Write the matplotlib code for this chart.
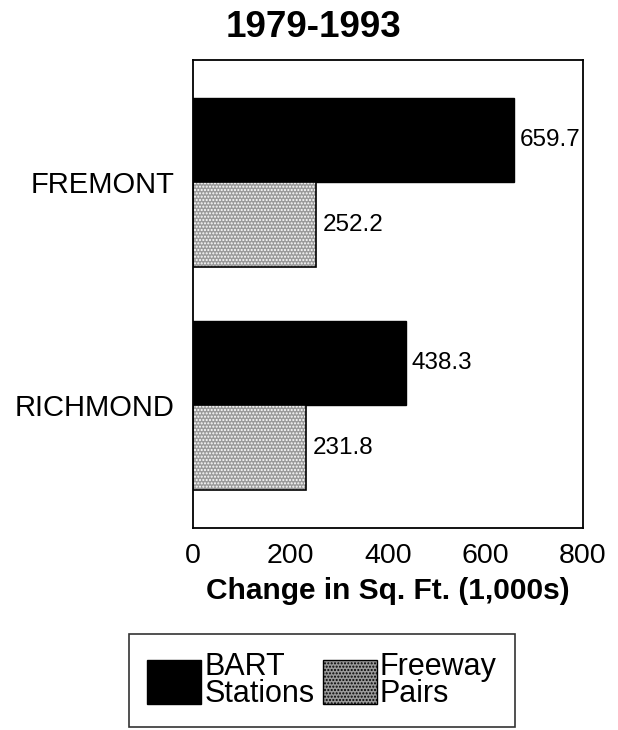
import matplotlib
matplotlib.use("Agg")
import matplotlib.pyplot as plt
from matplotlib.patches import Patch
import numpy as np

plt.rcParams['font.family'] = ['Liberation Sans', 'DejaVu Sans']

categories = ["FREMONT", "RICHMOND"]
bart = [659.7, 438.3]
freeway = [252.2, 231.8]
xticks = [0, 200, 400, 600, 800]

fig = plt.figure(figsize=(6.18, 7.30), dpi=100)
ax = fig.add_axes([0.312, 0.277, 0.631, 0.641])

y = np.arange(len(categories))
h = 0.38
ax.barh(y - h / 2, bart, height=h, color='black', edgecolor='black', linewidth=1)
ax.barh(y + h / 2, freeway, height=h, color='#9a9a9a', edgecolor='white',
        hatch='.....', linewidth=0)
ax.barh(y + h / 2, freeway, height=h, fill=False, edgecolor='black', linewidth=1.2)

for yi, v in zip(y, bart):
    ax.text(v + 10, yi - h / 2, f"{v:.1f}", va='center', ha='left', fontsize=17.5)
for yi, v in zip(y, freeway):
    ax.text(v + 14, yi + h / 2, f"{v:.1f}", va='center', ha='left', fontsize=17.5)

ax.set_xlim(0, 800)
ax.set_ylim(1.55, -0.55)
ax.set_xticks(xticks)
ax.set_xticklabels([str(t) for t in xticks], fontsize=20.5)
ax.set_yticks(y)
ax.set_yticklabels(categories, fontsize=21)
ax.tick_params(axis='x', length=0, pad=11)
ax.tick_params(axis='y', length=0, pad=13)
for s in ax.spines.values():
    s.set_linewidth(1.3)
    s.set_color('black')
ax.set_xlabel("Change in Sq. Ft. (1,000s)", fontsize=21.5, fontweight='bold', labelpad=6)
fig.text(0.508, 0.963, "1979-1993", ha='center', va='center', fontsize=26.5, fontweight='bold')

handles = [Patch(facecolor='black', edgecolor='black'),
           Patch(facecolor='#9a9a9a', edgecolor='black', hatch='.....')]
leg = fig.legend(handles, ["BART\nStations", "Freeway\nPairs"], ncol=2,
                 loc='center', bbox_to_anchor=(0.521, 0.068), fontsize=22,
                 frameon=True, fancybox=False, edgecolor='black',
                 handlelength=1.77, handleheight=1.85, handletextpad=0.1,
                 columnspacing=0.26, borderpad=0.6, labelspacing=0.2)
leg.get_frame().set_linewidth(1.2)
for t in leg.get_texts():
    t.set_linespacing(0.85)

fig.savefig("out.png", dpi=100)
